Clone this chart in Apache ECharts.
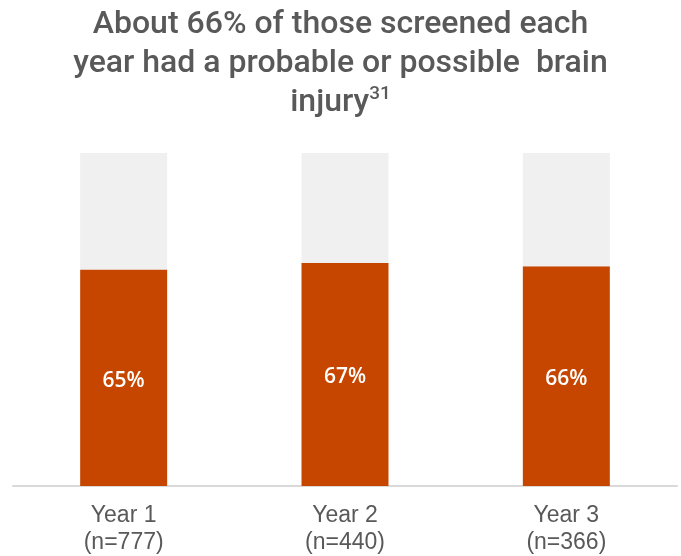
<!DOCTYPE html>
<html><head><meta charset="utf-8">
<script src="https://cdn.jsdelivr.net/npm/echarts@6/dist/echarts.min.js"></script>
<style>html,body{margin:0;padding:0;background:#fff}#c{width:681px;height:556px}</style>
</head><body><div id="c"></div>
<script>
const categories = ['Year 1\n(n=777)', 'Year 2\n(n=440)', 'Year 3\n(n=366)'];
const injuryPct = [65, 67, 66];
const restPct = [35, 33, 34];

const chart = echarts.init(document.getElementById('c'));
chart.setOption({
  animation: false,
  title: {
    text: 'About 66% of those screened each\nyear had a probable or possible  brain\ninjury{sup|31}',
    left: 'center',
    top: 0,
    textStyle: {
      fontFamily: 'Roboto', fontWeight: 500, fontSize: 32, color: '#595959', lineHeight: 39,
      rich: { sup: { fontFamily: 'Roboto', fontWeight: 500, fontSize: 19, color: '#595959', lineHeight: 39, padding: [0, 0, 16, 0] } }
    }
  },
  grid: { left: 13, right: 4, top: 153, bottom: 70, outerBoundsMode: 'none' },
  xAxis: {
    type: 'category', data: categories,
    axisLine: { lineStyle: { color: '#D9D9D9', width: 2 } },
    axisTick: { show: false },
    axisLabel: { fontFamily: 'Liberation Sans', fontSize: 23, color: '#595959', lineHeight: 27, margin: 16 }
  },
  yAxis: { type: 'value', min: 0, max: 100, show: false, splitLine: { show: false } },
  series: [
    { type: 'bar', stack: 's', data: injuryPct, barWidth: '39.3%', itemStyle: { color: '#C64600' },
      label: { show: true, position: 'inside', offset: [0, 3], formatter: '{c}%', color: '#fff', fontFamily: 'Open Sans', fontSize: 21, fontWeight: 600 } },
    { type: 'bar', stack: 's', data: restPct, barWidth: '39.3%', itemStyle: { color: '#F0F0F0' } }
  ]
});
</script></body></html>
